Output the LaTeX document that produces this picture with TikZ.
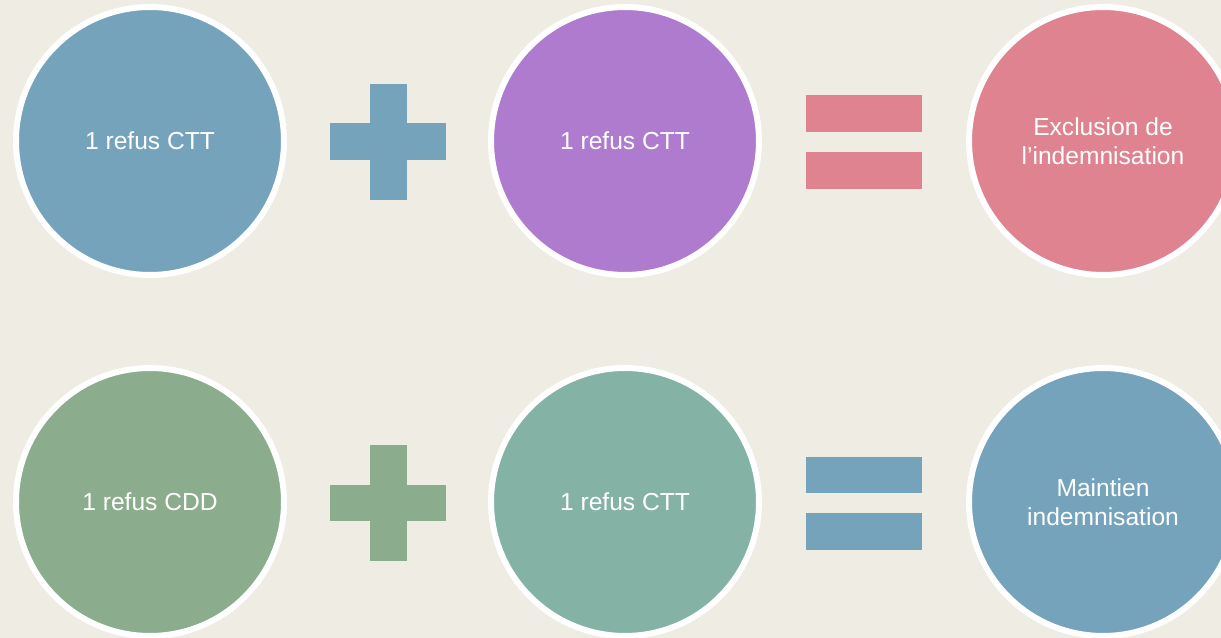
\documentclass[tikz,border=0pt]{standalone}
\usepackage{fontspec}
\setmainfont{Liberation Sans}
\usepackage{xcolor}
\usetikzlibrary{positioning}
\definecolor{paper}{HTML}{EFECE4}
\definecolor{steelblue}{HTML}{75A3BC}
\definecolor{lilac}{HTML}{AE7BCF}
\definecolor{rosepink}{HTML}{E08391}
\definecolor{sagegreen}{HTML}{8CAC8E}
\definecolor{seateal}{HTML}{84B3A6}

\begin{document}
\begin{tikzpicture}[x=0.02cm,y=-0.02cm,
    bubble/.style={circle,draw=white,line width=3.4pt,minimum size=5.36cm,
      inner sep=0pt,text=white,align=center,
      font=\fontsize{14}{16.5}\selectfont},
    hbar/.style={rectangle,inner sep=0pt,minimum width=2.34cm,minimum height=0.74cm},
    vbar/.style={rectangle,inner sep=0pt,minimum width=0.74cm,minimum height=2.34cm}]
  \useasboundingbox[fill=paper] (0,0) rectangle (1221,638);
  % ligne du haut
  \node[bubble,fill=steelblue] (ctta) at (150,141) {1 refus CTT};
  \node[hbar,fill=steelblue] (plusa) at (388,142) {};
  \node[vbar,fill=steelblue] at (plusa.center) {};
  \node[bubble,fill=lilac] (cttb) at (625,141) {1 refus CTT};
  \node[hbar,fill=rosepink] (eqa) at (864,114) {};
  \node[hbar,fill=rosepink,below=0.38cm of eqa] (eqb) {};
  \node[bubble,fill=rosepink] (excl) at (1103,141) {Exclusion de\\l’indemnisation};
  % ligne du bas
  \node[bubble,fill=sagegreen] (cdd) at (150,502) {1 refus CDD};
  \node[hbar,fill=sagegreen] (plusb) at (388,503) {};
  \node[vbar,fill=sagegreen] at (plusb.center) {};
  \node[bubble,fill=seateal] (cttc) at (625,502) {1 refus CTT};
  \node[hbar,fill=steelblue] (eqc) at (864,475) {};
  \node[hbar,fill=steelblue,below=0.38cm of eqc] (eqd) {};
  \node[bubble,fill=steelblue] (maint) at (1103,502) {Maintien\\indemnisation};
\end{tikzpicture}
\end{document}
